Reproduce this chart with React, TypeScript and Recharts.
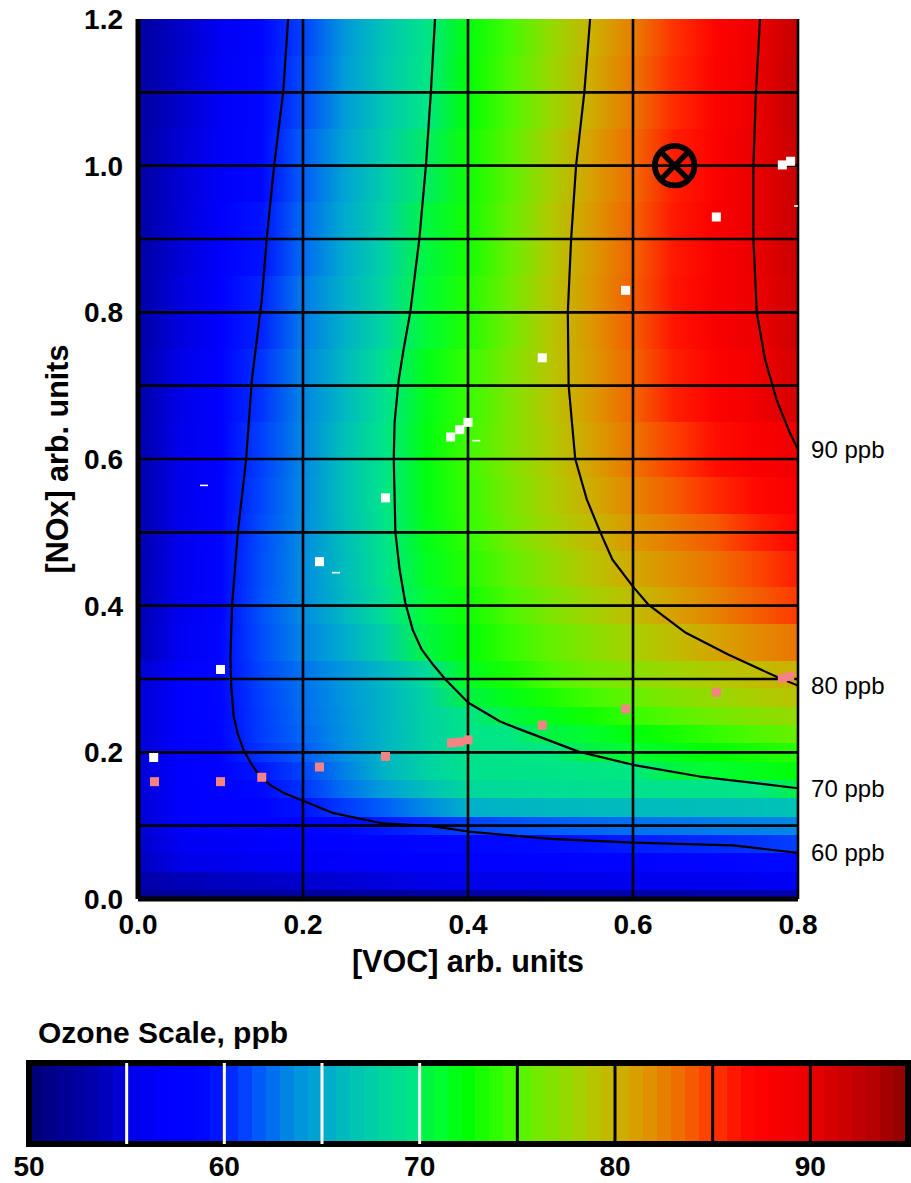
import React from 'react';
import {
  ComposedChart,
  XAxis,
  YAxis,
  ReferenceArea,
  ReferenceLine,
  ReferenceDot,
  Line,
  Scatter,
} from 'recharts';

const FONT = '"Liberation Sans", Arial, Helvetica, sans-serif';

// ---------- heat map grid (ozone, ppb) ----------
const xCols = [0, 0.05, 0.1, 0.15, 0.2, 0.25, 0.3, 0.35, 0.4, 0.45, 0.5, 0.55, 0.6, 0.65, 0.7, 0.75, 0.8];
const yRows = [1.2, 1.1, 1.0, 0.9, 0.8, 0.7, 0.6, 0.55, 0.5, 0.45, 0.4, 0.35, 0.3, 0.275, 0.25, 0.225, 0.2, 0.175, 0.15, 0.125, 0.1, 0.075, 0.05, 0.025, 0];
const ozoneGrid = [
  [52.3, 54.2, 56.0, 58.3, 61.0, 64.0, 66.8, 69.5, 72.2, 74.6, 77.4, 80.1, 82.6, 85.2, 87.3, 89.8, 92.3],
  [52.4, 54.3, 56.2, 58.6, 61.3, 64.2, 67.0, 69.7, 72.4, 74.9, 77.7, 80.4, 82.9, 85.4, 87.5, 90.0, 92.4],
  [52.5, 54.5, 56.5, 59.1, 61.9, 64.7, 67.5, 70.0, 72.9, 75.3, 78.3, 81.0, 83.3, 85.8, 87.8, 90.1, 92.2],
  [52.6, 54.6, 56.8, 59.6, 62.3, 65.1, 67.9, 70.4, 73.1, 75.7, 78.7, 81.3, 83.6, 86.0, 88.0, 90.1, 92.0],
  [52.7, 54.8, 57.0, 60.1, 62.8, 65.5, 68.3, 70.9, 73.5, 76.0, 78.9, 81.5, 83.8, 86.2, 88.1, 90.0, 91.7],
  [52.8, 55.0, 57.2, 60.6, 63.2, 66.0, 69.2, 71.8, 74.2, 76.5, 78.9, 81.3, 83.5, 85.8, 87.6, 89.4, 91.2],
  [53.0, 55.2, 57.4, 61.0, 63.3, 66.5, 69.6, 72.1, 74.4, 76.6, 78.7, 80.9, 83.0, 84.8, 86.5, 88.0, 89.5],
  [53.0, 55.3, 57.6, 61.2, 63.4, 66.5, 69.6, 72.0, 74.2, 76.3, 78.4, 80.4, 82.3, 83.9, 85.4, 86.8, 88.3],
  [53.1, 55.4, 57.8, 61.4, 63.5, 66.4, 69.5, 71.8, 74.0, 76.0, 78.0, 79.7, 81.5, 82.8, 84.0, 85.6, 87.2],
  [53.2, 55.5, 58.0, 61.5, 63.5, 66.2, 69.3, 71.5, 73.6, 75.5, 77.3, 79.0, 80.6, 81.9, 83.1, 84.5, 85.9],
  [53.3, 55.6, 58.2, 61.6, 63.5, 66.0, 68.9, 71.0, 73.0, 74.8, 76.5, 78.1, 79.5, 81.0, 82.4, 83.8, 85.0],
  [53.5, 55.8, 58.5, 61.4, 63.2, 65.2, 67.8, 70.4, 72.4, 74.1, 75.6, 77.0, 78.3, 79.5, 80.8, 82.0, 83.0],
  [54.4, 56.8, 59.0, 61.2, 62.6, 64.0, 66.0, 68.5, 71.6, 73.2, 74.8, 76.0, 77.0, 77.9, 78.7, 79.5, 80.2],
  [54.6, 57.0, 58.9, 61.0, 62.5, 63.9, 65.8, 68.0, 70.2, 71.8, 73.3, 74.6, 75.7, 76.7, 77.6, 78.4, 79.1],
  [54.6, 57.0, 58.6, 60.9, 62.4, 63.8, 65.8, 67.9, 69.6, 70.5, 71.8, 73.0, 74.2, 75.2, 76.1, 76.9, 77.6],
  [54.6, 57.0, 58.2, 60.9, 62.2, 63.7, 65.8, 67.8, 69.5, 69.8, 70.3, 71.2, 72.2, 73.2, 74.1, 75.0, 75.8],
  [54.6, 57.0, 57.8, 60.6, 61.8, 63.6, 65.8, 67.8, 69.4, 69.6, 69.8, 70.2, 71.0, 71.8, 72.6, 73.2, 73.8],
  [54.6, 57.0, 57.6, 59.7, 61.1, 63.0, 65.8, 67.8, 69.2, 69.4, 69.5, 69.7, 69.9, 70.3, 71.0, 71.7, 72.3],
  [54.6, 57.0, 57.4, 59.2, 60.6, 62.5, 64.5, 66.5, 68.3, 68.6, 68.8, 69.0, 69.1, 69.3, 69.5, 69.7, 70.1],
  [54.6, 56.8, 57.2, 57.9, 59.6, 60.8, 62.0, 63.5, 65.5, 65.8, 66.0, 66.1, 66.2, 66.3, 66.4, 66.5, 66.6],
  [54.5, 56.5, 57.0, 57.5, 58.2, 59.0, 59.8, 60.4, 61.1, 61.5, 61.9, 62.2, 62.5, 62.7, 62.9, 63.1, 63.3],
  [54.2, 55.8, 56.4, 56.8, 57.2, 57.6, 58.2, 58.5, 58.8, 59.1, 59.4, 59.6, 59.9, 60.1, 60.3, 60.6, 61.0],
  [53.8, 55.0, 55.6, 56.0, 56.3, 56.6, 56.9, 57.1, 57.3, 57.5, 57.7, 57.9, 58.1, 58.3, 58.5, 58.7, 58.9],
  [53.0, 53.6, 54.0, 54.2, 54.4, 54.6, 54.8, 55.0, 55.1, 55.2, 55.3, 55.4, 55.5, 55.6, 55.7, 55.8, 55.9],
  [51.8, 52.0, 52.2, 52.3, 52.4, 52.5, 52.6, 52.7, 52.8, 52.9, 53.0, 53.0, 53.1, 53.1, 53.2, 53.2, 53.3],
];

// ---------- isopleths ----------
const contour60 = [
  { x: 0.182, y: 1.2 }, { x: 0.176, y: 1.101 }, { x: 0.165, y: 1.0 }, { x: 0.156, y: 0.9 },
  { x: 0.150, y: 0.817 }, { x: 0.138, y: 0.708 }, { x: 0.131, y: 0.599 }, { x: 0.121, y: 0.5 },
  { x: 0.114, y: 0.4 }, { x: 0.112, y: 0.33 }, { x: 0.113, y: 0.29 }, { x: 0.116, y: 0.249 },
  { x: 0.121, y: 0.225 }, { x: 0.128, y: 0.203 }, { x: 0.137, y: 0.185 }, { x: 0.148, y: 0.167 },
  { x: 0.161, y: 0.155 }, { x: 0.176, y: 0.145 }, { x: 0.2, y: 0.134 }, { x: 0.237, y: 0.117 },
  { x: 0.297, y: 0.103 }, { x: 0.358, y: 0.099 }, { x: 0.40, y: 0.092 }, { x: 0.50, y: 0.082 },
  { x: 0.60, y: 0.077 }, { x: 0.721, y: 0.073 }, { x: 0.80, y: 0.063 },
];
const contour70 = [
  { x: 0.36, y: 1.2 }, { x: 0.355, y: 1.1 }, { x: 0.349, y: 1.0 }, { x: 0.341, y: 0.9 },
  { x: 0.330, y: 0.8 }, { x: 0.322, y: 0.75 }, { x: 0.316, y: 0.708 }, { x: 0.311, y: 0.65 },
  { x: 0.310, y: 0.6 }, { x: 0.312, y: 0.5 }, { x: 0.317, y: 0.45 }, { x: 0.324, y: 0.404 },
  { x: 0.333, y: 0.367 }, { x: 0.344, y: 0.34 }, { x: 0.358, y: 0.319 }, { x: 0.373, y: 0.299 },
  { x: 0.40, y: 0.268 }, { x: 0.439, y: 0.242 }, { x: 0.459, y: 0.233 }, { x: 0.534, y: 0.201 },
  { x: 0.60, y: 0.183 }, { x: 0.681, y: 0.167 }, { x: 0.80, y: 0.151 },
];
const contour80 = [
  { x: 0.548, y: 1.2 }, { x: 0.541, y: 1.1 }, { x: 0.531, y: 1.0 }, { x: 0.525, y: 0.9 },
  { x: 0.521, y: 0.8 }, { x: 0.522, y: 0.7 }, { x: 0.530, y: 0.6 }, { x: 0.544, y: 0.545 },
  { x: 0.560, y: 0.501 }, { x: 0.575, y: 0.463 }, { x: 0.600, y: 0.426 }, { x: 0.619, y: 0.401 },
  { x: 0.664, y: 0.363 }, { x: 0.716, y: 0.333 }, { x: 0.776, y: 0.302 }, { x: 0.80, y: 0.291 },
];
const contour90 = [
  { x: 0.754, y: 1.2 }, { x: 0.749, y: 1.1 }, { x: 0.746, y: 1.0 }, { x: 0.746, y: 0.9 },
  { x: 0.750, y: 0.8 }, { x: 0.760, y: 0.736 }, { x: 0.774, y: 0.681 }, { x: 0.790, y: 0.636 },
  { x: 0.80, y: 0.613 },
];
const contourLabels = ['60 ppb', '70 ppb', '80 ppb', '90 ppb'];
const contours = [contour60, contour70, contour80, contour90];

// ---------- observation points ----------
const whitePoints = [
  { x: 0.019, y: 0.193 }, { x: 0.10, y: 0.313 }, { x: 0.22, y: 0.46 }, { x: 0.30, y: 0.547 },
  { x: 0.379, y: 0.630 }, { x: 0.39, y: 0.640 }, { x: 0.40, y: 0.650 }, { x: 0.49, y: 0.738 },
  { x: 0.591, y: 0.830 }, { x: 0.701, y: 0.930 }, { x: 0.781, y: 1.001 }, { x: 0.791, y: 1.006 },
];
const whiteDashes = [
  { x: 0.08, y: 0.564 }, { x: 0.24, y: 0.445 }, { x: 0.41, y: 0.625 }, { x: 0.80, y: 0.945 },
];
const pinkPoints = [
  { x: 0.02, y: 0.16 }, { x: 0.10, y: 0.16 }, { x: 0.15, y: 0.166 }, { x: 0.22, y: 0.18 },
  { x: 0.30, y: 0.1945 }, { x: 0.38, y: 0.213 }, { x: 0.39, y: 0.214 }, { x: 0.40, y: 0.217 },
  { x: 0.49, y: 0.237 }, { x: 0.591, y: 0.259 }, { x: 0.701, y: 0.282 }, { x: 0.781, y: 0.301 },
  { x: 0.79, y: 0.3035 },
];
const currentPoint = [{ x: 0.6505, y: 1.0 }];

// ---------- axes ----------
const xTicks = [0, 0.2, 0.4, 0.6, 0.8];
const yTicks = [0, 0.2, 0.4, 0.6, 0.8, 1.0, 1.2];
const gridX = [0.2, 0.4, 0.6, 0.8];
const gridY = [0.1, 0.2, 0.3, 0.4, 0.5, 0.6, 0.7, 0.8, 0.9, 1.0, 1.1];

// ---------- colour scale ----------
const scaleTicks = [50, 60, 70, 80, 90];
const scaleBreaks = [50, 55, 60, 65, 70, 75, 80, 85, 90, 95];
const whiteDividers = [55, 60, 65, 70];
const blackDividers = [75, 80, 85, 90];

const palette: [number, string][] = [
  [50, '#000070'], [51, '#000088'], [52, '#000098'], [53, '#0000A8'], [54, '#0000C0'],
  [54.7, '#0000D8'], [55, '#0000E8'], [56, '#0000F4'], [57, '#0000FF'], [59.3, '#0008FF'],
  [60, '#0020FF'], [61, '#0040FF'], [62, '#0060F8'], [63, '#0080E8'], [64, '#0098DC'],
  [65, '#00A8D0'], [66, '#00B8C0'], [67, '#00C8B0'], [68, '#00D4A0'], [69, '#00E090'],
  [69.95, '#00E880'], [70.05, '#00F048'], [71, '#00FF30'], [72.5, '#00FF00'], [74, '#30FF00'],
  [75, '#50F800'], [76, '#70EC00'], [77, '#88E000'], [78, '#A0D400'], [79, '#B8C400'],
  [80, '#C8B400'], [81, '#D8A000'], [82, '#E28C00'], [83, '#EC7400'], [84, '#F65800'],
  [85, '#FF3800'], [86, '#FF1800'], [87, '#FF0400'], [88, '#FA0000'], [90, '#EC0000'],
  [91, '#D80000'], [92, '#C80000'], [93, '#B80000'], [94, '#A40000'], [95, '#8C0000'],
];

function hexRgb(h: string): number[] {
  return [parseInt(h.slice(1, 3), 16), parseInt(h.slice(3, 5), 16), parseInt(h.slice(5, 7), 16)];
}
function colorFor(v: number): string {
  if (v <= palette[0][0]) return palette[0][1];
  for (let i = 0; i < palette.length - 1; i++) {
    const [a, ca] = palette[i];
    const [b, cb] = palette[i + 1];
    if (v <= b) {
      const t = (v - a) / (b - a);
      const A = hexRgb(ca);
      const B = hexRgb(cb);
      const c = A.map((q, k) => Math.round(q + (B[k] - q) * t));
      return `rgb(${c[0]},${c[1]},${c[2]})`;
    }
  }
  return palette[palette.length - 1][1];
}

const xMax = xCols[xCols.length - 1];
const strips = yRows.map((y, i) => ({
  id: `ozrow${i}`,
  y2: i === 0 ? y : (yRows[i - 1] + y) / 2,
  y1: i === yRows.length - 1 ? y : (y + yRows[i + 1]) / 2,
  values: ozoneGrid[i],
}));

// colour-bar stripes (7 per 5-ppb band, like the legend of the original)
const cbStops: { off: number; col: string }[] = [];
for (let s = 0; s < scaleBreaks.length - 1; s++) {
  const lo = scaleBreaks[s];
  const hi = scaleBreaks[s + 1];
  const n = 7;
  for (let k = 0; k < n; k++) {
    const a = lo + ((hi - lo) * k) / n;
    const b = lo + ((hi - lo) * (k + 1)) / n;
    const col = colorFor((a + b) / 2);
    cbStops.push({ off: (a - 50) / 45, col });
    cbStops.push({ off: (b - 50) / 45, col });
  }
}

const squareShape = (fill: string) => (p: any) =>
  <rect x={p.cx - 4.5} y={p.cy - 4.5} width={9} height={9} fill={fill} />;
const dashShape = (p: any) =>
  <rect x={p.cx - 4} y={p.cy - 0.8} width={8} height={1.6} fill="#ffffff" />;
const crossCircle = (p: any) => (
  <g>
    <circle cx={p.cx} cy={p.cy} r={19.8} fill="none" stroke="#000" strokeWidth={5.8} />
    <line x1={p.cx - 12.5} y1={p.cy - 12.5} x2={p.cx + 12.5} y2={p.cy + 12.5} stroke="#000" strokeWidth={5.5} />
    <line x1={p.cx - 12.5} y1={p.cy + 12.5} x2={p.cx + 12.5} y2={p.cy - 12.5} stroke="#000" strokeWidth={5.5} />
  </g>
);

const tickStyle = { fontSize: 28, fontWeight: 'bold', fill: '#000', fontFamily: FONT };
const titleStyle = { fontSize: 30.5, fontWeight: 'bold', fill: '#000', fontFamily: FONT };

export default function App() {
  return (
    <div style={{ position: 'relative', width: 911, height: 1183, overflow: 'hidden', background: '#fff', fontFamily: FONT }}>
      <style>{'html,body{margin:0;padding:0;overflow:hidden;background:#fff}'}</style>
      <div style={{ position: 'absolute', left: 0, top: 0 }}>
        <ComposedChart width={911} height={1000} margin={{ top: 19, right: 113, bottom: 0, left: 0 }}>
          <defs>
            {strips.map((s) => (
              <linearGradient key={s.id} id={s.id} x1="0" y1="0" x2="1" y2="0">
                {s.values.map((v, j) => (
                  <stop key={j} offset={xCols[j] / xMax} stopColor={colorFor(v)} />
                ))}
              </linearGradient>
            ))}
          </defs>
          <XAxis
            type="number"
            dataKey="x"
            domain={[0, 0.8]}
            ticks={xTicks}
            allowDataOverflow
            tickFormatter={(v: number) => v.toFixed(1)}
            axisLine={{ stroke: '#000', strokeWidth: 5 }}
            tickLine={false}
            tickSize={6}
            tickMargin={9}
            height={101}
            tick={tickStyle}
            label={{ value: '[VOC] arb. units', position: 'insideBottom', offset: 28, style: titleStyle }}
          />
          <YAxis
            type="number"
            dataKey="y"
            domain={[0, 1.2]}
            ticks={yTicks}
            allowDataOverflow
            tickFormatter={(v: number) => v.toFixed(1)}
            axisLine={{ stroke: '#000', strokeWidth: 5 }}
            tickLine={false}
            tickSize={6}
            tickMargin={9}
            width={138}
            tick={tickStyle}
            label={{ value: '[NOx] arb. units', position: 'center', angle: -90, dx: -12, style: titleStyle }}
          />
          {strips.map((s) => (
            <ReferenceArea
              key={s.id}
              x1={0}
              x2={xMax}
              y1={s.y1}
              y2={s.y2}
              fill={`url(#${s.id})`}
              fillOpacity={1}
              stroke="none"
              strokeWidth={0}
              shapeRendering="crispEdges"
            />
          ))}
          {gridY.map((y) => (
            <ReferenceLine key={`gy${y}`} y={y} stroke="#000" strokeWidth={2.6} />
          ))}
          {gridX.map((x) => (
            <ReferenceLine key={`gx${x}`} x={x} stroke="#000" strokeWidth={2.6} />
          ))}
          {contours.map((c, i) => (
            <Line
              key={`c${i}`}
              data={c}
              dataKey="y"
              type="linear"
              stroke="#000"
              strokeWidth={2.2}
              strokeLinejoin="round"
              dot={false}
              activeDot={false}
              isAnimationActive={false}
            />
          ))}
          {contours.map((c, i) => (
            <ReferenceDot
              key={`cl${i}`}
              x={c[c.length - 1].x}
              y={c[c.length - 1].y}
              r={0.1}
              fill="none"
              stroke="none"
              label={{ value: contourLabels[i], position: 'right', offset: 13, fill: '#000', fontSize: 24, fontFamily: FONT }}
            />
          ))}
          <Scatter data={pinkPoints} shape={squareShape('#F48484')} isAnimationActive={false} />
          <Scatter data={whitePoints} shape={squareShape('#ffffff')} isAnimationActive={false} />
          <Scatter data={whiteDashes} shape={dashShape} isAnimationActive={false} />
          <Scatter data={currentPoint} shape={crossCircle} isAnimationActive={false} />
        </ComposedChart>
      </div>
      <div
        style={{
          position: 'absolute', left: 38, top: 1018, fontSize: 30, lineHeight: '30px',
          fontWeight: 'bold', whiteSpace: 'nowrap', color: '#000', fontFamily: FONT,
        }}
      >
        Ozone Scale, ppb
      </div>
      <div style={{ position: 'absolute', left: 0, top: 1000 }}>
        <ComposedChart width={911} height={183} margin={{ top: 63, right: 3, bottom: 0, left: 29 }}>
          <defs>
            <linearGradient id="ozoneScale" x1="0" y1="0" x2="1" y2="0">
              {cbStops.map((s, i) => (
                <stop key={i} offset={s.off} stopColor={s.col} />
              ))}
            </linearGradient>
          </defs>
          <XAxis
            type="number"
            dataKey="v"
            domain={[50, 95]}
            ticks={scaleTicks}
            allowDataOverflow
            axisLine={false}
            tickLine={false}
            tickSize={0}
            tickMargin={12}
            height={39}
            tick={tickStyle}
          />
          <YAxis type="number" hide domain={[0, 1]} allowDataOverflow />
          <ReferenceArea
            x1={50}
            x2={95}
            y1={0}
            y2={1}
            fill="url(#ozoneScale)"
            fillOpacity={1}
            stroke="#000"
            strokeWidth={6}
          />
          {whiteDividers.map((d) => (
            <ReferenceLine key={`w${d}`} x={d} stroke="#ffffff" strokeWidth={3} />
          ))}
          {blackDividers.map((d) => (
            <ReferenceLine key={`b${d}`} x={d} stroke="#000" strokeWidth={3} />
          ))}
        </ComposedChart>
      </div>
    </div>
  );
}
